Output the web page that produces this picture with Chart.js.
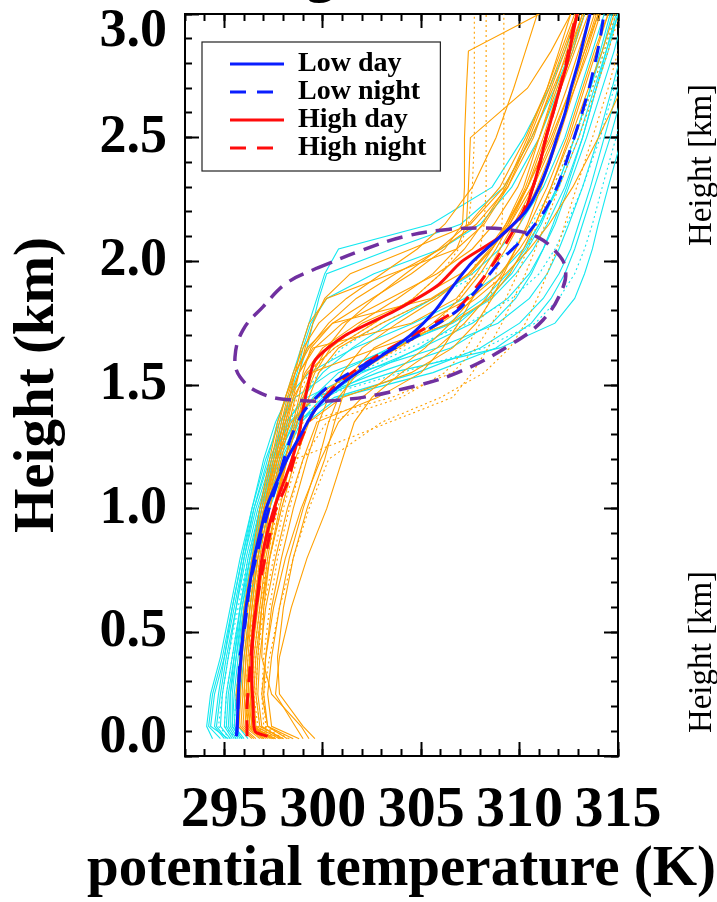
<!DOCTYPE html>
<html>
<head>
<meta charset="utf-8">
<title>Potential temperature profiles</title>
<script src="https://cdn.jsdelivr.net/npm/chart.js"></script>
<style>
  body { margin: 0; background: #fff; }
  canvas { display: block; }
</style>
</head>
<body>
<canvas id="thetaChart" width="717" height="902"></canvas>
<script>
// axis ranges and tick values
const xMin = 293, xMax = 315;
const yMin = 0, yMax = 3;
const xMajorTicks = [295, 300, 305, 310, 315];
const xMinorTicks = [293, 294, 295, 296, 297, 298, 299, 300, 301, 302, 303, 304, 305, 306, 307, 308, 309, 310, 311, 312, 313, 314, 315];
const yMajorTicks = [0, 0.5, 1.0, 1.5, 2.0, 2.5, 3.0];
const yMinorTicks = [0, 0.1, 0.2, 0.3, 0.4, 0.5, 0.6, 0.7, 0.8, 0.9, 1.0, 1.1, 1.2, 1.3, 1.4, 1.5, 1.6, 1.7, 1.8, 1.9, 2.0, 2.1, 2.2, 2.3, 2.4, 2.5, 2.6, 2.7, 2.8, 2.9, 3.0];
const xTitle = 'potential temperature (K)';
const yTitle = 'Height (km)';

// mean profiles (K) at these heights (km)
const meanHeights = [0.08, 0.1, 0.2, 0.3, 0.4, 0.5, 0.6, 0.7, 0.8, 0.9, 1.0, 1.1, 1.2, 1.3, 1.4, 1.5, 1.6, 1.7, 1.8, 1.9, 2.0, 2.1, 2.2, 2.3, 2.4, 2.5, 2.6, 2.7, 2.8, 2.9, 3.0];
const lowDay = [295.6, 295.64, 295.69, 295.74, 295.85, 295.95, 296.1, 296.3, 296.51, 296.81, 297.12, 297.62, 298.18, 298.89, 299.61, 300.88, 302.65, 304.43, 305.7, 306.62, 307.63, 309.01, 310.3, 311.0, 311.5, 311.9, 312.31, 312.61, 312.97, 313.27, 313.58];
const lowNight = [295.62, 295.64, 295.69, 295.74, 295.79, 296.0, 296.15, 296.3, 296.61, 296.91, 297.27, 297.67, 298.03, 298.44, 299.1, 300.37, 302.5, 304.84, 306.82, 307.99, 309.01, 310.28, 311.24, 311.9, 312.36, 312.77, 313.17, 313.53, 313.83, 314.09, 314.29];
const highDay = [297.2, 296.56, 296.46, 296.4, 296.4, 296.46, 296.61, 296.76, 296.91, 297.17, 297.52, 297.98, 298.44, 298.79, 299.0, 299.25, 299.61, 301.13, 303.67, 305.8, 307.07, 309.01, 310.23, 310.68, 311.04, 311.34, 311.7, 312.05, 312.41, 312.66, 312.92];
const highNight = [296.15, 296.15, 296.15, 296.25, 296.35, 296.46, 296.61, 296.81, 297.07, 297.32, 297.62, 298.18, 298.54, 299.0, 299.61, 300.67, 302.4, 304.53, 306.72, 307.84, 308.75, 309.51, 310.17, 310.68, 311.04, 311.34, 311.7, 312.05, 312.36, 312.61, 312.87];

// individual soundings (K) at these heights (km)
const profileHeights = [0.07, 0.12, 0.25, 0.4, 0.6, 0.8, 1.0, 1.2, 1.35, 1.45, 1.55, 1.65, 1.75, 1.85, 1.95, 2.05, 2.15, 2.3, 2.5, 2.7, 2.85, 3.0];
const highSolid = [
  [297.5, 296.3, 296.2, 296.3, 296.5, 296.8, 297.2, 297.7, 298.1, 298.4, 298.8, 299.5, 304.5, 306.8, 307.8, 308.6, 309.3, 310.2, 311.0, 311.8, 312.4, 313.0],
  [298.0, 296.8, 296.6, 296.7, 296.9, 297.2, 297.6, 298.1, 298.5, 298.8, 299.0, 299.4, 300.5, 305.5, 307.5, 308.6, 309.4, 310.3, 311.2, 312.0, 312.7, 313.3],
  [296.8, 296.0, 295.9, 296.0, 296.3, 296.6, 297.0, 297.6, 298.4, 299.6, 301.5, 303.8, 305.6, 307.0, 308.0, 308.8, 309.5, 310.4, 311.3, 312.1, 312.8, 313.5],
  [299.6, 299.0, 297.8, 297.7, 298.0, 298.5, 299.2, 300.1, 300.6, 301.0, 301.5, 302.6, 305.0, 307.5, 309.0, 310.0, 310.8, 311.6, 312.5, 313.3, 313.9, 314.5],
  [297.0, 296.2, 296.0, 296.1, 296.3, 296.6, 297.0, 297.5, 297.9, 298.2, 298.6, 299.2, 300.5, 302.5, 304.5, 306.2, 307.1, 307.2, 307.2, 307.3, 307.4, 311.0],
  [297.2, 296.4, 296.2, 296.3, 296.5, 296.9, 297.3, 297.9, 298.3, 298.6, 299.1, 300.0, 301.8, 303.8, 305.6, 306.8, 307.3, 307.4, 307.5, 310.4, 311.6, 312.6],
  [296.5, 295.8, 295.7, 295.8, 296.1, 296.5, 297.0, 297.6, 298.0, 298.3, 298.6, 298.9, 299.3, 300.2, 303.5, 306.8, 308.2, 309.4, 310.5, 311.5, 312.2, 312.9],
  [297.8, 296.6, 296.5, 296.6, 296.9, 297.3, 297.9, 298.6, 299.3, 301.0, 304.5, 306.6, 307.8, 308.6, 309.2, 309.8, 310.4, 311.1, 312.0, 312.8, 313.4, 314.0],
  [298.2, 297.2, 296.9, 297.1, 297.5, 298.1, 298.9, 299.9, 300.8, 302.0, 303.6, 305.2, 306.5, 307.6, 308.5, 309.3, 310.0, 310.9, 311.9, 312.7, 313.3, 313.9],
  [297.3, 296.5, 296.3, 296.4, 296.6, 296.9, 297.3, 297.8, 298.2, 298.5, 298.8, 299.1, 299.5, 300.1, 301.4, 304.5, 307.5, 309.2, 310.6, 311.7, 312.5, 313.2],
  [299.0, 298.6, 297.6, 297.8, 298.4, 299.2, 300.2, 301.0, 301.6, 302.5, 304.0, 305.8, 307.2, 308.3, 309.1, 309.8, 310.5, 311.4, 312.4, 313.2, 313.8, 314.5],
  [296.9, 296.1, 296.0, 296.1, 296.4, 296.7, 297.1, 297.7, 298.1, 298.5, 299.2, 300.6, 302.6, 304.6, 306.0, 307.2, 308.1, 309.3, 310.4, 311.4, 312.0, 312.6],
  [297.6, 296.4, 296.3, 296.4, 296.7, 297.0, 297.5, 298.1, 298.6, 298.9, 299.4, 302.8, 306.5, 308.5, 309.5, 310.2, 310.8, 311.6, 312.6, 313.5, 314.2, 314.8],
  [296.6, 295.9, 295.8, 295.9, 296.2, 296.5, 296.9, 297.4, 297.8, 298.1, 298.5, 299.0, 299.8, 301.2, 303.0, 304.8, 306.2, 307.6, 308.8, 309.7, 310.3, 310.9],
  [298.5, 297.2, 297.0, 297.1, 297.4, 297.9, 298.5, 299.2, 299.8, 300.3, 301.0, 302.0, 303.8, 305.8, 307.4, 308.5, 309.4, 310.4, 311.6, 312.6, 313.3, 314.0],
  [297.1, 296.3, 296.1, 296.2, 296.4, 296.7, 297.1, 297.6, 298.0, 298.3, 298.8, 299.6, 301.0, 303.4, 305.8, 307.6, 308.7, 309.9, 311.0, 311.9, 312.6, 313.2],
  [298.8, 297.4, 297.2, 297.4, 297.8, 298.3, 299.0, 299.8, 300.3, 300.8, 301.8, 303.8, 306.0, 307.8, 309.3, 310.5, 311.5, 312.7, 314.0, 315.2, 315.6, 316.0],
  [297.4, 296.5, 296.4, 296.5, 296.8, 297.1, 297.6, 298.2, 298.7, 299.0, 299.5, 300.2, 301.2, 302.6, 304.2, 305.9, 307.4, 309.0, 310.3, 311.4, 312.1, 312.8],
  [299.3, 298.9, 297.4, 296.9, 297.0, 297.3, 297.8, 298.4, 298.9, 299.3, 299.8, 300.8, 303.0, 305.6, 307.4, 308.6, 309.5, 310.6, 311.7, 312.6, 313.2, 313.8],
  [296.4, 295.7, 295.6, 295.8, 296.0, 296.4, 296.8, 297.3, 297.7, 298.1, 298.6, 299.3, 300.3, 301.7, 303.7, 306.0, 307.8, 309.4, 310.7, 311.6, 312.3, 312.9],
  [297.9, 296.9, 296.7, 296.8, 297.1, 297.6, 298.2, 299.0, 299.7, 302.8, 305.0, 306.1, 306.9, 307.6, 308.3, 309.0, 309.7, 310.7, 311.8, 312.8, 313.5, 314.1],
  [297.0, 296.2, 296.1, 296.3, 296.6, 297.0, 297.5, 298.2, 298.7, 299.1, 299.6, 300.4, 302.0, 304.8, 307.0, 308.4, 309.3, 310.4, 311.5, 312.4, 313.0, 313.6]
];
const highDotted = [
  [297.5, 296.6, 296.4, 296.5, 296.8, 297.2, 297.7, 298.4, 299.0, 303.5, 306.6, 307.8, 308.6, 309.3, 309.9, 310.4, 310.9, 311.7, 312.8, 313.7, 314.3, 314.9],
  [297.0, 296.2, 296.1, 296.2, 296.5, 296.8, 297.2, 297.8, 298.3, 298.7, 299.3, 300.6, 302.6, 304.6, 306.0, 306.9, 307.4, 307.6, 307.7, 307.7, 307.7, 307.7],
  [297.8, 296.8, 296.6, 296.7, 297.0, 297.5, 298.0, 298.7, 299.2, 299.8, 301.5, 304.0, 305.8, 306.9, 307.6, 308.0, 308.2, 308.3, 308.3, 308.3, 308.3, 308.3],
  [298.0, 297.0, 296.9, 297.0, 297.3, 297.7, 298.3, 299.0, 300.2, 304.0, 306.2, 307.3, 308.0, 308.5, 308.8, 309.0, 309.1, 309.2, 309.2, 309.2, 309.2, 309.2],
  [298.3, 297.1, 297.0, 297.3, 297.8, 298.5, 299.3, 300.3, 303.0, 306.0, 308.2, 309.5, 310.3, 310.9, 311.4, 311.9, 312.3, 312.9, 313.7, 314.5, 315.0, 315.5],
  [297.6, 296.7, 296.5, 296.6, 296.9, 297.3, 297.9, 298.6, 303.4, 306.6, 307.6, 308.4, 309.1, 309.7, 310.3, 310.8, 311.3, 312.0, 313.0, 313.9, 314.5, 315.1]
];
const lowSolid = [
  [295.2, 294.3, 294.5, 295.0, 295.5, 296.0, 296.6, 297.4, 298.3, 299.6, 302.8, 306.5, 308.6, 309.8, 310.6, 311.2, 311.7, 312.4, 313.2, 313.9, 314.4, 314.9],
  [295.6, 295.2, 295.3, 295.5, 295.8, 296.2, 296.8, 297.6, 298.6, 300.6, 304.8, 308.0, 310.0, 311.2, 312.0, 312.6, 313.0, 313.6, 314.3, 315.0, 315.4, 315.8],
  [294.4, 294.1, 294.3, 294.8, 295.3, 295.8, 296.4, 297.1, 297.8, 298.6, 300.4, 303.6, 306.4, 308.2, 309.4, 310.3, 311.0, 311.9, 312.8, 313.6, 314.2, 314.7],
  [295.8, 295.4, 295.5, 295.7, 296.0, 296.4, 296.9, 297.5, 298.0, 298.4, 298.8, 299.2, 299.5, 299.8, 300.2, 303.5, 307.0, 309.2, 310.6, 311.8, 312.6, 313.3],
  [296.0, 295.5, 295.6, 295.8, 296.1, 296.5, 297.1, 297.9, 298.8, 300.0, 302.0, 305.0, 307.6, 309.4, 310.5, 311.2, 311.8, 312.5, 313.4, 314.2, 314.8, 315.3],
  [295.4, 295.0, 295.1, 295.4, 295.8, 296.3, 296.9, 297.7, 298.5, 299.6, 303.5, 309.0, 311.8, 312.8, 313.3, 313.7, 314.0, 314.5, 315.2, 315.8, 316.0, 316.2],
  [295.3, 294.8, 294.9, 295.2, 295.6, 296.0, 296.5, 297.2, 297.7, 298.1, 298.5, 298.9, 299.3, 299.7, 300.1, 300.8, 305.5, 308.6, 310.2, 311.5, 312.3, 313.0],
  [295.5, 295.1, 295.2, 295.5, 295.9, 296.4, 297.0, 297.8, 298.7, 299.5, 300.8, 303.4, 306.6, 308.6, 309.8, 310.7, 311.4, 312.3, 313.2, 313.9, 314.5, 315.0],
  [294.8, 294.2, 294.4, 294.9, 295.4, 295.9, 296.4, 297.0, 297.6, 298.2, 299.3, 301.6, 304.6, 307.2, 309.0, 310.2, 311.0, 312.0, 313.0, 313.8, 314.4, 315.0],
  [296.2, 295.7, 295.8, 296.0, 296.3, 296.7, 297.3, 298.2, 299.2, 300.8, 305.6, 308.8, 310.6, 311.6, 312.3, 312.8, 313.2, 313.8, 314.6, 315.3, 315.8, 316.2],
  [295.1, 294.6, 294.8, 295.1, 295.6, 296.1, 296.7, 297.5, 298.2, 299.0, 300.0, 301.5, 303.4, 305.6, 307.6, 309.0, 310.0, 311.2, 312.3, 313.1, 313.7, 314.3],
  [295.9, 295.4, 295.4, 295.6, 295.9, 296.3, 296.8, 297.4, 297.9, 298.3, 298.7, 299.0, 299.4, 300.2, 302.6, 306.0, 308.0, 309.6, 311.0, 312.0, 312.7, 313.3],
  [295.0, 294.5, 294.7, 295.0, 295.4, 295.9, 296.5, 297.3, 298.1, 299.2, 301.8, 305.8, 308.9, 310.5, 311.4, 312.0, 312.5, 313.2, 314.0, 314.7, 315.2, 315.6],
  [295.7, 295.3, 295.3, 295.6, 296.0, 296.5, 297.2, 298.0, 298.9, 300.2, 302.4, 304.9, 306.9, 308.4, 309.6, 310.4, 311.1, 311.9, 312.8, 313.6, 314.1, 314.6]
];
const lowDotted = [
  [295.3, 294.7, 294.9, 295.2, 295.7, 296.2, 296.8, 297.6, 298.4, 299.8, 304.0, 308.2, 310.8, 312.0, 312.8, 313.3, 313.7, 314.2, 314.9, 315.5, 316.0, 316.0],
  [295.9, 295.5, 295.6, 295.8, 296.2, 296.6, 297.2, 298.0, 298.9, 300.0, 301.8, 304.4, 307.4, 309.6, 311.0, 311.8, 312.4, 313.2, 314.1, 314.8, 315.3, 315.8],
  [295.6, 295.0, 295.1, 295.4, 295.8, 296.3, 296.9, 297.6, 298.3, 299.0, 299.8, 301.0, 303.0, 305.6, 308.0, 309.6, 310.6, 311.7, 312.8, 313.7, 314.3, 314.8]
];

// dashed outline around the inversion layer
const ellipseT = [299.71, 302.04, 304.08, 306.11, 308.14, 309.51, 310.89, 311.9, 312.31, 312.21, 311.19, 309.36, 306.82, 304.28, 301.03, 298.34, 296.81, 295.79, 295.54, 295.95, 296.96, 298.18, 299.71];
const ellipseH = [1.973, 2.046, 2.099, 2.127, 2.135, 2.127, 2.099, 2.034, 1.977, 1.896, 1.763, 1.654, 1.549, 1.488, 1.44, 1.44, 1.468, 1.533, 1.613, 1.723, 1.816, 1.913, 1.973];

const SERIF = "'Liberation Serif', 'Times New Roman', serif";
const BLUE = 'rgb(10, 30, 255)';
const RED = 'rgb(255, 12, 12)';
const ORANGE = 'rgb(255, 160, 0)';
const CYAN = 'rgb(20, 232, 240)';
const PURPLE = 'rgb(112, 48, 160)';
const NIGHT_DASH = [16, 11];

const xy = (temps, heights) => temps.map((t, i) => ({ x: t, y: heights[i] }));

function profileSet(temps, color, dotted, order) {
  return {
    data: xy(temps, profileHeights),
    borderColor: color,
    borderWidth: 1.1,
    borderDash: dotted ? [2, 3] : [],
    order: order
  };
}

function meanSet(label, temps, color, dash) {
  return {
    label: label,
    data: xy(temps, meanHeights),
    borderColor: color,
    borderWidth: 3,
    borderDash: dash,
    tension: 0.25,
    order: 1
  };
}

const datasets = [
  {
    data: xy(ellipseT, ellipseH),
    borderColor: PURPLE,
    borderWidth: 3.5,
    borderDash: [16, 9],
    tension: 0.4,
    order: 0
  },
  meanSet('Low day', lowDay, BLUE, []),
  meanSet('Low night', lowNight, BLUE, NIGHT_DASH),
  meanSet('High day', highDay, RED, []),
  meanSet('High night', highNight, RED, NIGHT_DASH)
];
highSolid.forEach(p => datasets.push(profileSet(p, ORANGE, false, 2)));
highDotted.forEach(p => datasets.push(profileSet(p, ORANGE, true, 2)));
lowSolid.forEach(p => datasets.push(profileSet(p, CYAN, false, 3)));
lowDotted.forEach(p => datasets.push(profileSet(p, CYAN, true, 3)));

const setTicks = values => scale => { scale.ticks = values.map(v => ({ value: v })); };

// tick marks sit inside the frame (negative tick length)
function frameScale(axis, position, values, tickLen, withBorder) {
  return {
    type: 'linear',
    axis: axis,
    position: position,
    min: axis === 'x' ? xMin : yMin,
    max: axis === 'x' ? xMax : yMax,
    weight: withBorder ? 1 : 0,
    afterBuildTicks: setTicks(values),
    afterFit: s => {
      if (axis === 'x') s.height = 0; else s.width = 0;
      s.paddingLeft = s.paddingRight = s.paddingTop = s.paddingBottom = 0;
    },
    border: { display: withBorder, color: '#000', width: 2 },
    grid: { drawOnChartArea: false, drawTicks: true, tickLength: tickLen, tickColor: '#000', tickWidth: 2 },
    ticks: { display: false }
  };
}

const legendFrame = {
  id: 'legendFrame',
  afterLayout(chart) {
    const lg = chart.legend, area = chart.chartArea;
    lg.left = area.left + 45;
    lg.top = area.top + 36;
  },
  beforeDraw(chart) {
    const lg = chart.legend, ctx = chart.ctx;
    const boxes = lg.legendHitBoxes;
    if (!boxes || !boxes.length) return;
    const right = Math.max(...boxes.map(b => b.left + b.width)) + 14;
    const bottom = Math.max(...boxes.map(b => b.top + b.height)) + 9;
    const left = lg.left - 28, top = lg.top - 8;
    ctx.save();
    ctx.fillStyle = '#fff';
    ctx.fillRect(left, top, right - left, bottom - top);
    ctx.strokeStyle = '#222';
    ctx.lineWidth = 1.2;
    ctx.strokeRect(left, top, right - left, bottom - top);
    ctx.restore();
  }
};

// x title is wider than the plot, so it is written here instead of by the scale;
// the other texts are labels of the neighbouring panels that show at the page edges
const edgeText = {
  id: 'edgeText',
  afterDraw(chart) {
    const ctx = chart.ctx, area = chart.chartArea;
    ctx.save();
    ctx.fillStyle = '#000';
    ctx.textAlign = 'center';
    ctx.textBaseline = 'alphabetic';
    ctx.font = "bold 57px " + SERIF;
    ctx.fillText(xTitle, (area.left + area.right) / 2, 885);
    ctx.fillText('g', 320, -9);
    ctx.textBaseline = 'middle';
    ctx.font = "33px " + SERIF;
    [165, 652].forEach(y => {
      ctx.save();
      ctx.translate(702, y);
      ctx.rotate(-Math.PI / 2);
      ctx.fillText('Height [km]', 0, 0);
      ctx.restore();
    });
    ctx.restore();
  }
};

new Chart(document.getElementById('thetaChart'), {
  type: 'scatter',
  data: { datasets: datasets },
  options: {
    responsive: false,
    animation: false,
    layout: { padding: { left: 0, right: 99, top: 14, bottom: 0 } },
    elements: {
      point: { radius: 0, hoverRadius: 0 },
      line: { fill: false }
    },
    datasets: { scatter: { showLine: true } },
    scales: {
      x: {
        type: 'linear',
        position: 'bottom',
        min: xMin,
        max: xMax,
        weight: 1,
        afterBuildTicks: setTicks(xMajorTicks),
        afterFit: s => { s.height = 146; s.paddingLeft = 0; s.paddingRight = 0; },
        border: { display: true, color: '#000', width: 2 },
        grid: { drawOnChartArea: false, drawTicks: true, tickLength: -14, tickColor: '#000', tickWidth: 2 },
        ticks: {
          color: '#000',
          font: { family: SERIF, size: 58, weight: 'bold' },
          padding: 34,
          maxRotation: 0,
          autoSkip: false,
          callback: v => v.toFixed(0)
        },
        title: { display: false }
      },
      xMinor: frameScale('x', 'bottom', xMinorTicks, -7, false),
      xTop: frameScale('x', 'top', xMajorTicks, -14, true),
      xTopMinor: frameScale('x', 'top', xMinorTicks, -7, false),
      y: {
        type: 'linear',
        position: 'left',
        min: yMin,
        max: yMax,
        weight: 1,
        afterBuildTicks: setTicks(yMajorTicks),
        afterFit: s => { s.width = 185; s.paddingTop = 0; s.paddingBottom = 0; },
        border: { display: true, color: '#000', width: 2 },
        grid: { drawOnChartArea: false, drawTicks: true, tickLength: -14, tickColor: '#000', tickWidth: 2 },
        ticks: {
          color: '#000',
          font: { family: SERIF, size: 54, weight: 'bold', lineHeight: '36px' },
          padding: 32,
          autoSkip: false,
          // end labels are kept inside the frame
          callback: v => v === yMax ? ['', v.toFixed(1)] : v === yMin ? [v.toFixed(1), ''] : v.toFixed(1)
        },
        title: {
          display: true,
          text: yTitle,
          color: '#000',
          font: { family: SERIF, size: 57, weight: 'bold' },
          padding: { top: 4, bottom: 0 }
        }
      },
      yMinor: frameScale('y', 'left', yMinorTicks, -7, false),
      yRight: frameScale('y', 'right', yMajorTicks, -14, true),
      yRightMinor: frameScale('y', 'right', yMinorTicks, -7, false)
    },
    plugins: {
      tooltip: { enabled: false },
      legend: {
        position: 'chartArea',
        align: 'start',
        labels: {
          usePointStyle: true,
          pointStyleWidth: 54,
          boxHeight: 10,
          padding: 0,
          color: '#000',
          font: { family: SERIF, size: 28, weight: 'bold' },
          generateLabels: chart => chart.data.datasets
            .map((ds, i) => ({ ds, i }))
            .filter(o => o.ds.label)
            .map(o => ({
              text: o.ds.label,
              strokeStyle: o.ds.borderColor,
              fillStyle: o.ds.borderColor,
              fontColor: '#000',
              lineWidth: 3,
              lineDash: o.ds.borderDash,
              pointStyle: 'line',
              hidden: false,
              datasetIndex: o.i
            }))
        }
      }
    }
  },
  plugins: [legendFrame, edgeText]
});
</script>
</body>
</html>
